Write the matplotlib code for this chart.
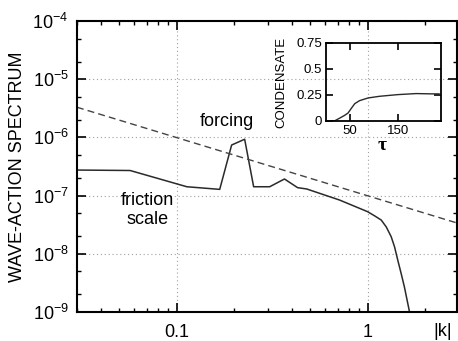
import matplotlib
matplotlib.use("Agg")
import matplotlib.pyplot as plt
from matplotlib.ticker import LogLocator, FixedLocator, NullFormatter

plt.rcParams['font.family'] = ['Liberation Sans', 'DejaVu Sans']
plt.rcParams['mathtext.fontset'] = 'custom'
plt.rcParams['mathtext.rm'] = 'Liberation Sans'
plt.rcParams['mathtext.default'] = 'regular'

# spectrum
k = [0.03, 0.057, 0.113, 0.168, 0.194, 0.227, 0.253, 0.307, 0.367, 0.43,
     0.48, 0.528, 0.713, 1.0, 1.088, 1.18, 1.253, 1.33, 1.385, 1.44, 1.50,
     1.56, 1.66]
spec = [2.75e-7, 2.7e-7, 1.42e-7, 1.28e-7, 7.4e-7, 9.3e-7, 1.42e-7, 1.42e-7,
        1.93e-7, 1.37e-7, 1.30e-7, 1.17e-7, 8.4e-8, 5.3e-8, 4.5e-8, 3.8e-8,
        2.9e-8, 1.97e-8, 1.32e-8, 7.8e-9, 4.6e-9, 2.7e-9, 1.0e-9]

# reference slope line
dash_k = [0.03, 2.93]
dash_spec = [3.3e-6, 3.4e-8]

# inset: condensate vs time
tau = [0, 18.6, 29, 39, 46, 53, 60, 70, 88, 112, 150, 188, 222, 236]
cond = [0, 0, 0.026, 0.052, 0.074, 0.12, 0.164, 0.193, 0.219, 0.235, 0.251,
        0.261, 0.258, 0.258]

fig = plt.figure(figsize=(4.58, 3.41), dpi=100)
ax = fig.add_axes([0.168, 0.085, 0.829, 0.8534])

ax.plot(k, spec, color='#2a2a2a', lw=1.1)
ax.plot(dash_k, dash_spec, color='#444444', lw=1.0, dashes=(5, 3))

ax.set_xscale('log')
ax.set_yscale('log')
ax.set_xlim(0.03, 2.93)
ax.set_ylim(1e-9, 1e-4)

ax.xaxis.set_major_locator(FixedLocator([0.1, 1]))
ax.set_xticklabels(['0.1', '1'])
ax.xaxis.set_minor_locator(LogLocator(base=10, subs=range(2, 10), numticks=20))
ax.xaxis.set_minor_formatter(NullFormatter())
ax.yaxis.set_major_locator(LogLocator(base=10, numticks=10))
ax.yaxis.set_minor_locator(LogLocator(base=10, subs=(2, 5), numticks=20))
ax.yaxis.set_minor_formatter(NullFormatter())

ax.tick_params(which='both', direction='in', top=True, right=True, labelsize=13)
ax.tick_params(which='major', length=6.5, width=1.2)
ax.tick_params(which='minor', length=3.2, width=1.0)
ax.tick_params(axis='x', pad=8.5)
ax.tick_params(axis='y', pad=6)
for s in ax.spines.values():
    s.set_linewidth(1.5)

ax.grid(True, which='major', color='#a0a0a0', lw=0.8, dashes=(1, 2.5))

ax.text(0.184, 1.84e-6, 'forcing', fontsize=13, ha='center', va='center')
ax.text(0.0705, 5.66e-8, 'friction\nscale', fontsize=13, ha='center',
        va='center', linespacing=1.1)

fig.text(18 / 458, 1 - 166.5 / 341, 'WAVE-ACTION SPECTRUM', rotation=90,
         ha='center', va='center', fontsize=13)
fig.text(443 / 458, 1 - 331 / 341, '|k|', ha='center', va='center', fontsize=13)

# inset
ins = fig.add_axes([0.7118, 0.646, 0.2511, 0.2287])
ins.set_facecolor('none')
ins.plot(tau, cond, color='#2a2a2a', lw=1.0)
ins.set_xlim(0, 240)
ins.set_ylim(0, 0.75)
ins.set_xticks([50, 150])
ins.set_yticks([0, 0.25, 0.5, 0.75])
ins.set_yticklabels(['0', '0.25', '0.5', '0.75'])
ins.tick_params(direction='in', top=True, right=True, labelsize=9.5,
                length=5, width=1.2, pad=3)
for s in ins.spines.values():
    s.set_linewidth(1.3)

fig.text(281 / 458, 1 - 82 / 341, 'CONDENSATE', rotation=90, ha='center',
         va='center', fontsize=9.5)
fig.text(381.7 / 458, 1 - 145 / 341, 'τ', ha='center', va='center',
         fontsize=14, family=['Liberation Serif', 'DejaVu Serif'], weight='bold')

fig.savefig('out.png', dpi=100)
